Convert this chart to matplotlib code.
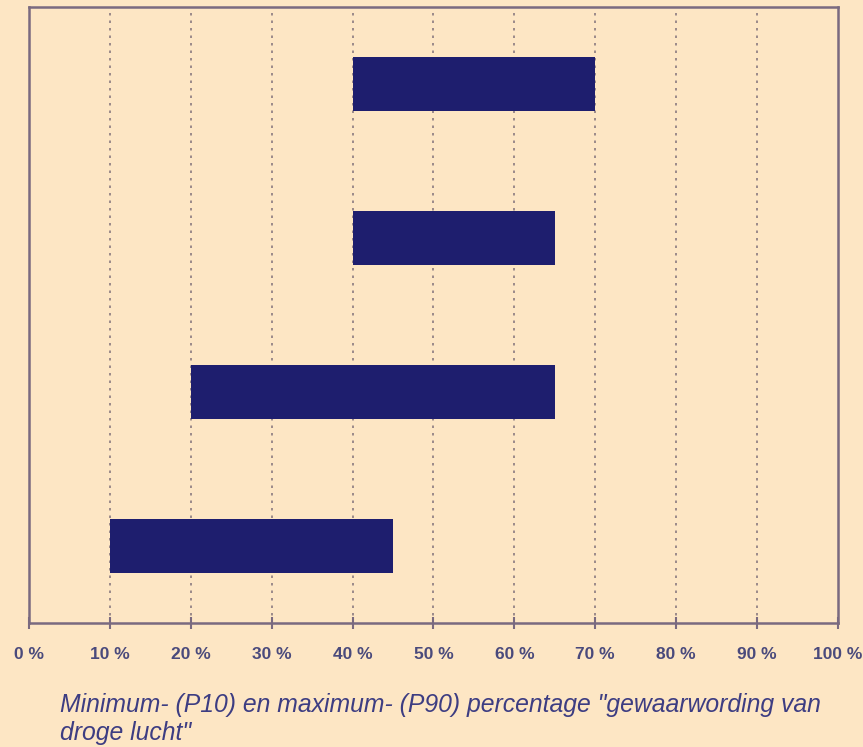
import numpy as np
import matplotlib.pyplot as plt

# P10 (start) and P90 (end) percentages, from top bar to bottom bar
p10 = [40, 40, 20, 10]
p90 = [70, 65, 65, 45]
x_ticks = list(range(0, 101, 10))
x_labels = [f'{t} %' for t in x_ticks]

bg = '#fde6c4'
bar_color = '#1e1e6e'
spine_color = '#7a6a80'
text_color = '#4a4a7c'

fig = plt.figure(figsize=(8.63, 7.47), dpi=100, facecolor=bg)
ax = fig.add_axes([0.0336, 0.166, 0.9374, 0.8246], facecolor=bg)

ypos = np.arange(len(p10))[::-1] + 0.5
widths = np.array(p90) - np.array(p10)
ax.barh(ypos, widths, left=p10, height=0.345, color=bar_color, zorder=3)

ax.set_xlim(0, 100)
ax.set_ylim(0, 4)
ax.set_yticks([])
ax.set_xticks(x_ticks)
ax.set_xticklabels(x_labels, fontsize=12.5, color=text_color,
                   fontfamily='Liberation Sans', fontweight='bold')
ax.tick_params(axis='x', direction='inout', length=8, width=1.5,
               color=spine_color, pad=13)

for t in x_ticks[1:-1]:
    ax.axvline(t, color='#8a7a80', linestyle=(0, (1.5, 3)), linewidth=1.2, zorder=1)

for s in ax.spines.values():
    s.set_color(spine_color)
    s.set_linewidth(1.8)

fig.text(0.0695, 0.038, 'Minimum- (P10) en maximum- (P90) percentage "gewaarwording van\ndroge lucht"',
         fontsize=17.8, fontstyle='italic', color='#3d3d82', fontfamily='Liberation Sans',
         ha='left', va='center', linespacing=1.2)

fig.savefig('out.png', dpi=100, facecolor=bg)
